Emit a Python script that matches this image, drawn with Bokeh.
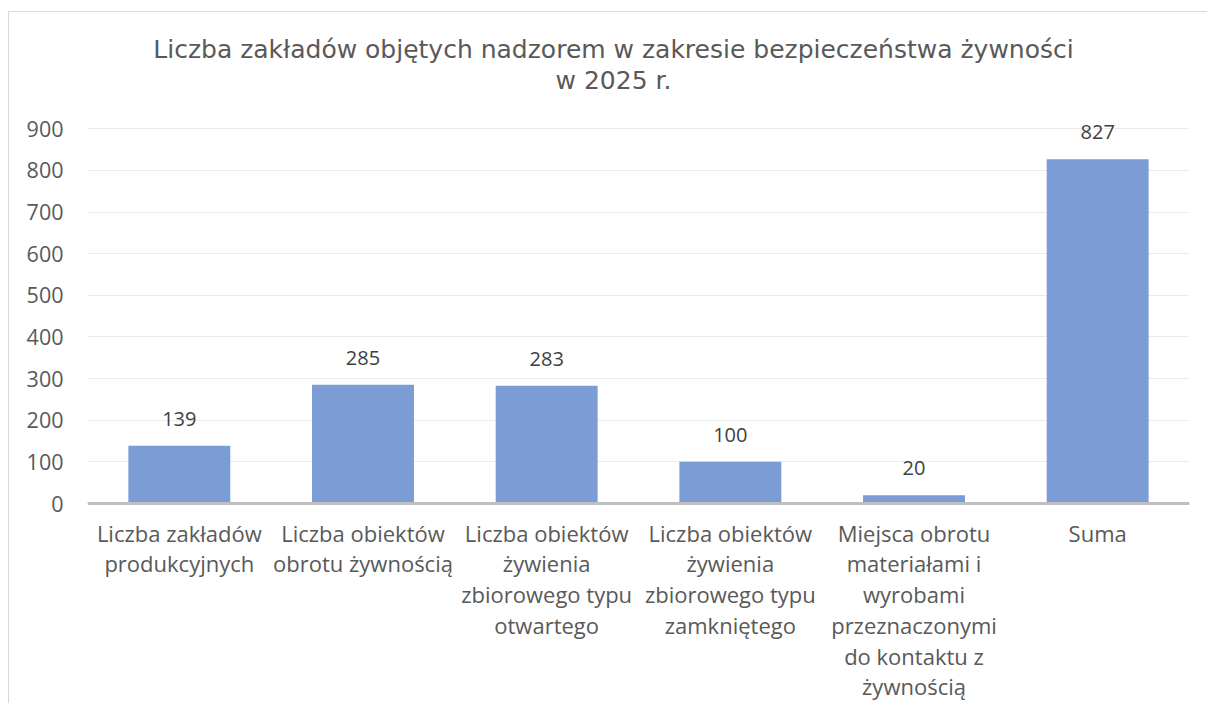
from bokeh.plotting import figure
from bokeh.models import Range1d, FactorRange, FixedTicker, Span, Label, ColumnDataSource
from bokeh.core.properties import value
from bokeh.embed import file_html
from bokeh.resources import INLINE

# ---- data ----
categories = [
    "Liczba zakładów produkcyjnych",
    "Liczba obiektów obrotu żywnością",
    "Liczba obiektów żywienia zbiorowego typu otwartego",
    "Liczba obiektów żywienia zbiorowego typu zamkniętego",
    "Miejsca obrotu materiałami i wyrobami przeznaczonymi do kontaktu z żywnością",
    "Suma",
]
tick_labels = [
    "Liczba zakładów\nprodukcyjnych",
    "Liczba obiektów\nobrotu żywnością",
    "Liczba obiektów\nżywienia\nzbiorowego typu\notwartego",
    "Liczba obiektów\nżywienia\nzbiorowego typu\nzamkniętego",
    "Miejsca obrotu\nmateriałami i\nwyrobami\nprzeznaczonymi\ndo kontaktu z\nżywnością",
    "Suma",
]
values = [139, 285, 283, 100, 20, 827]
y_ticks = [0, 100, 200, 300, 400, 500, 600, 700, 800, 900]
title_line1 = "Liczba zakładów objętych nadzorem w zakresie bezpieczeństwa żywności"
title_line2 = "w 2025 r."

# ---- layout constants ----
W, H = 1199, 692
LEFT, RIGHT = 78, 19
ZERO_Y = 491          # canvas y of value 0
SCALE = 0.4163        # px per unit
y_start = -(H - ZERO_Y) / SCALE
y_end = ZERO_Y / SCALE

src = ColumnDataSource(dict(
    cat=categories,
    val=values,
    lbl=[str(v) for v in values],
    tick=tick_labels,
))

p = figure(
    x_range=FactorRange(factors=categories),
    y_range=Range1d(y_start, y_end),
    width=W, height=H,
    output_backend="svg", toolbar_location=None,
    x_axis_location=None,
    min_border_left=LEFT, min_border_right=RIGHT,
    min_border_top=0, min_border_bottom=0,
    title=None,
)
p.styles = {"border-left": "1px solid #D9D9D9", "border-top": "1px solid #D9D9D9",
            "margin-top": "11px", "margin-left": "8px"}
p.outline_line_color = None
p.background_fill_color = "white"
p.border_fill_color = "white"

# y axis
p.yaxis.ticker = FixedTicker(ticks=y_ticks)
p.yaxis.axis_line_color = None
p.yaxis.major_tick_line_color = None
p.yaxis.minor_tick_line_color = None
p.yaxis.major_tick_out = 0
p.yaxis.major_tick_in = 0
p.yaxis.major_label_standoff = 24
p.yaxis.major_label_text_font = "Open Sans"
p.yaxis.major_label_text_font_size = "21.5px"
p.yaxis.major_label_text_color = "#595959"

# grid
p.ygrid.ticker = FixedTicker(ticks=y_ticks)
p.ygrid.grid_line_color = "#EBEBEB"
p.ygrid.grid_line_width = 1
for g in p.xgrid:
    g.visible = False

# bars
p.vbar(x="cat", top="val", bottom=0, width=0.555, source=src,
       fill_color="#7C9CD6", line_color=None)

# x axis line
p.add_layout(Span(location=0, dimension="width", line_color="#BFBFBF", line_width=3))

# data labels
p.text(x="cat", y="val", text="lbl", source=src,
       text_font=value("Open Sans"), text_font_size="20px", text_color="#404040",
       text_align="center", text_baseline="alphabetic", y_offset=-27)

# category labels
p.text(x="cat", y=0, text="tick", source=src,
       text_font=value("Open Sans"), text_font_size="22px", text_color="#595959",
       text_align="center", text_baseline="top", y_offset=14, text_line_height=1.025)

# title
for txt, yy in ((title_line1, H - 37.3), (title_line2, H - 68.3)):
    p.add_layout(Label(x=526, y=yy, x_units="screen", y_units="screen", text=txt,
                       text_font="DejaVu Sans", text_font_size="25px", text_color="#595959",
                       text_align="center", text_baseline="alphabetic"))

open("out.html", "w").write(file_html(p, INLINE))
